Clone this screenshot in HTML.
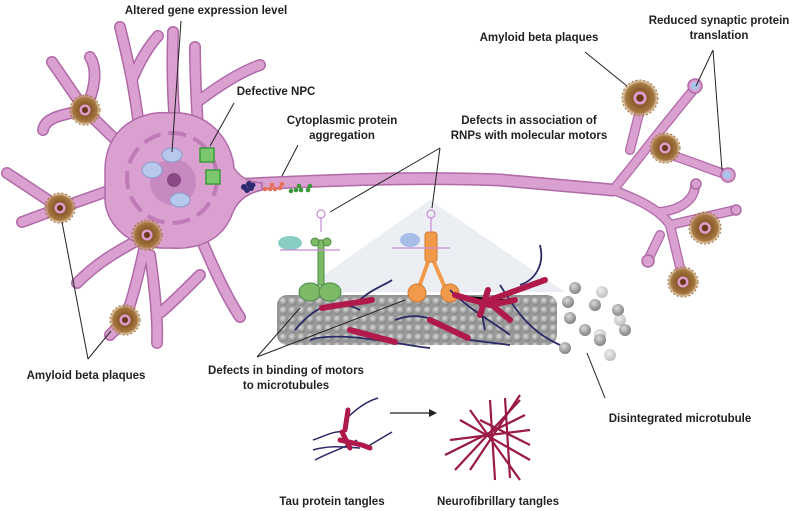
<!DOCTYPE html>
<html><head><meta charset="utf-8"><style>
html,body{margin:0;padding:0;background:#fff}
svg{display:block}
text{font-family:"Liberation Sans",sans-serif;font-weight:bold;font-size:11.5px;fill:#222;text-anchor:middle}
</style></head><body>
<svg width="800" height="511" viewBox="0 0 800 511" xmlns="http://www.w3.org/2000/svg">
<defs>
<radialGradient id="tb" cx="0.4" cy="0.35" r="0.7"><stop offset="0" stop-color="#dadada"/><stop offset="1" stop-color="#7a7a7a"/></radialGradient>
<radialGradient id="pl"><stop offset="0" stop-color="#6a3a1a"/><stop offset="0.18" stop-color="#6a3a1a"/><stop offset="0.23" stop-color="#e0a0d0"/><stop offset="0.33" stop-color="#e0a0d0"/><stop offset="0.4" stop-color="#8a5a2a"/><stop offset="0.8" stop-color="#a57840"/><stop offset="1" stop-color="#c9a170" stop-opacity="0.4"/></radialGradient>
<pattern id="mt" width="9" height="9" patternUnits="userSpaceOnUse"><rect width="9" height="9" fill="#999"/><circle cx="4.5" cy="4.5" r="4.2" fill="url(#tb)"/></pattern>
</defs>

<polygon points="430,200 300,292 565,292" fill="#e6eaf0" opacity="0.8"/>

<g fill="none" stroke="#b06aa8" stroke-linecap="round" stroke-linejoin="round">
 <g stroke-width="12">
  <path d="M123,147 L85,110 L52,62"/><path d="M85,110 C95,90 98,70 90,57"/><path d="M85,110 C60,115 45,118 43,130"/>
  <path d="M140,135 C135,90 128,60 120,27"/><path d="M132,80 C140,60 150,45 158,36"/>
  <path d="M175,125 C172,90 172,60 173,32"/>
  <path d="M198,128 C196,95 195,70 195,47"/><path d="M200,100 C220,85 240,72 260,65"/>
  <path d="M125,185 L60,208 L7,173"/><path d="M60,208 L22,222"/>
  <path d="M150,225 L147,235 C120,250 100,260 77,283"/><path d="M147,235 C140,270 132,300 125,320 L110,335"/>
  <path d="M150,255 C155,290 158,320 157,343"/>
  <path d="M195,225 C210,260 225,295 240,317"/><path d="M200,275 C185,290 170,305 160,313"/>
 </g>
 <g stroke-width="10">
  <path d="M630,150 L640,110"/><path d="M613,190 C630,170 660,130 695,88"/><path d="M655,150 C690,160 710,170 728,175"/>
  <path d="M613,190 C640,200 660,210 670,225 L683,280"/><path d="M670,225 L735,210"/><path d="M660,212 C680,210 695,200 695,185"/><path d="M660,235 L648,260"/>
 </g>
 <path d="M225,185 C300,182 400,176 500,180 L613,190" stroke-width="13"/>
</g>
<g fill="none" stroke="#d9a0d0" stroke-linecap="round" stroke-linejoin="round">
 <g stroke-width="9">
  <path d="M123,147 L85,110 L52,62"/><path d="M85,110 C95,90 98,70 90,57"/><path d="M85,110 C60,115 45,118 43,130"/>
  <path d="M140,135 C135,90 128,60 120,27"/><path d="M132,80 C140,60 150,45 158,36"/>
  <path d="M175,125 C172,90 172,60 173,32"/>
  <path d="M198,128 C196,95 195,70 195,47"/><path d="M200,100 C220,85 240,72 260,65"/>
  <path d="M125,185 L60,208 L7,173"/><path d="M60,208 L22,222"/>
  <path d="M150,225 L147,235 C120,250 100,260 77,283"/><path d="M147,235 C140,270 132,300 125,320 L110,335"/>
  <path d="M150,255 C155,290 158,320 157,343"/>
  <path d="M195,225 C210,260 225,295 240,317"/><path d="M200,275 C185,290 170,305 160,313"/>
 </g>
 <g stroke-width="7.5">
  <path d="M630,150 L640,110"/><path d="M613,190 C630,170 660,130 695,88"/><path d="M655,150 C690,160 710,170 728,175"/>
  <path d="M613,190 C640,200 660,210 670,225 L683,280"/><path d="M670,225 L735,210"/><path d="M660,212 C680,210 695,200 695,185"/><path d="M660,235 L648,260"/>
 </g>
 <path d="M225,185 C300,182 400,176 500,180 L613,190" stroke-width="10"/>
</g>
<g fill="#d9a0d0" stroke="#b06aa8" stroke-width="1.5">
 <circle cx="695" cy="86" r="7"/><circle cx="728" cy="175" r="7"/><circle cx="736" cy="210" r="5"/><circle cx="696" cy="184" r="5"/><circle cx="648" cy="261" r="6"/>
</g>
<circle cx="695" cy="86" r="4" fill="#a8c4ec"/><circle cx="727" cy="175" r="4" fill="#a8c4ec"/>
<path d="M105,170 C105,128 140,110 170,113 C208,110 232,140 234,168 C242,180 252,182 262,183 L262,190 C245,194 236,202 231,217 C220,242 195,250 170,248 C132,250 106,226 105,200 Z" fill="#d9a0d0" stroke="#b06aa8" stroke-width="1.5"/>
<circle cx="172" cy="178" r="45" fill="none" stroke="#c07ab8" stroke-width="4" stroke-dasharray="18 8"/>
<circle cx="173" cy="182" r="23" fill="#c78ac0"/>
<circle cx="174" cy="180" r="7" fill="#8a4a86"/>
<g fill="#b8c8ec" stroke="#8a9ccc" stroke-width="1">
 <ellipse cx="172" cy="155" rx="10" ry="7"/><ellipse cx="152" cy="170" rx="10" ry="8"/><ellipse cx="180" cy="200" rx="10" ry="7"/>
</g>
<g fill="#7cc66e" stroke="#3c9a3c" stroke-width="1.5">
 <path d="M200,148 h14 v14 h-14 z"/><path d="M206,170 h14 v14 h-14 z"/>
</g>
<g fill="#2e2a70"><circle cx="244" cy="187" r="3"/><circle cx="249" cy="184" r="3"/><circle cx="251" cy="188" r="3"/><circle cx="247" cy="190" r="3"/><circle cx="253" cy="185" r="2.5"/></g>
<g fill="#e6705a"><circle cx="265" cy="189" r="2.3"/><circle cx="270" cy="189" r="2.3"/><circle cx="275" cy="189" r="2.3"/><circle cx="272" cy="185" r="2.3"/><circle cx="280" cy="188" r="2.3"/><circle cx="282" cy="184" r="2.3"/></g>
<g fill="#3a9a3a"><circle cx="291" cy="191" r="2.3"/><circle cx="296" cy="190" r="2.3"/><circle cx="301" cy="190" r="2.3"/><circle cx="299" cy="186" r="2.3"/><circle cx="308" cy="190" r="2.3"/><circle cx="310" cy="186" r="2.3"/></g>
<g fill="url(#pl)">
 <circle cx="85" cy="110" r="15"/><circle cx="60" cy="208" r="15"/><circle cx="147" cy="235" r="15"/><circle cx="125" cy="320" r="15"/>
 <circle cx="640" cy="98" r="18"/><circle cx="665" cy="148" r="15"/><circle cx="705" cy="228" r="16"/><circle cx="683" cy="282" r="15"/>
</g>
<g fill="none" stroke="#a0703a" stroke-width="1" stroke-dasharray="2 2">
 <circle cx="85" cy="110" r="15"/><circle cx="60" cy="208" r="15"/><circle cx="147" cy="235" r="15"/><circle cx="125" cy="320" r="15"/>
 <circle cx="640" cy="98" r="18"/><circle cx="665" cy="148" r="15"/><circle cx="705" cy="228" r="16"/><circle cx="683" cy="282" r="15"/>
</g>
<rect x="277" y="295" width="280" height="50" rx="10" fill="url(#mt)"/>
<g fill="#7cba68" stroke="#4c8a44" stroke-width="1"><rect x="318" y="240" width="6" height="45"/><ellipse cx="310" cy="292" rx="11" ry="9"/><ellipse cx="330" cy="292" rx="11" ry="9"/><circle cx="315" cy="242" r="4"/><circle cx="327" cy="242" r="4"/></g>
<ellipse cx="290" cy="243" rx="12" ry="7" fill="#8acdc4"/>
<g fill="none" stroke="#c88ad8" stroke-width="1.2"><path d="M280,250 H340"/><path d="M321,232 V218"/><circle cx="321" cy="214" r="4"/></g>
<g fill="#f29a4c" stroke="#d07a30" stroke-width="1"><rect x="425" y="232" width="12" height="30" rx="3"/><path d="M428,262 L418,290 M434,262 L446,290" stroke="#f29a4c" stroke-width="4"/><circle cx="417" cy="293" r="9"/><circle cx="450" cy="293" r="9"/></g>
<ellipse cx="410" cy="240" rx="10" ry="7" fill="#a8bce8"/>
<g fill="none" stroke="#c88ad8" stroke-width="1.2"><path d="M392,248 H450"/><path d="M431,232 V218"/><circle cx="431" cy="214" r="4"/></g>
<g fill="none" stroke="#2a2a66" stroke-width="1.8">
 <path d="M295,330 C320,300 340,300 360,310"/><path d="M360,300 C370,290 385,285 392,280"/><path d="M310,340 C340,330 400,345 430,348"/>
 <path d="M395,320 C420,310 440,320 470,340 L510,345"/><path d="M450,290 C470,310 490,320 510,335"/><path d="M500,285 C510,300 525,330 560,345"/>
 <path d="M540,245 C545,265 535,280 520,285"/><path d="M480,305 L485,330"/>
</g>
<g stroke="#b01a4a" stroke-width="6" stroke-linecap="round" stroke-dasharray="9 2">
 <path d="M322,308 L372,300"/><path d="M350,330 L395,342"/><path d="M430,320 L468,338"/><path d="M455,295 L490,305 L515,300"/><path d="M490,300 L545,280"/><path d="M488,290 L480,315"/><path d="M492,305 L510,320"/>
</g>
<g fill="url(#tb)">
 <circle cx="575" cy="288" r="6"/><circle cx="570" cy="318" r="6"/><circle cx="585" cy="330" r="6"/><circle cx="602" cy="292" r="6" opacity="0.5"/><circle cx="595" cy="305" r="6"/><circle cx="618" cy="310" r="6"/><circle cx="625" cy="330" r="6"/><circle cx="600" cy="335" r="6" opacity="0.5"/><circle cx="565" cy="348" r="6"/><circle cx="600" cy="340" r="6"/><circle cx="610" cy="355" r="6" opacity="0.5"/><circle cx="568" cy="302" r="6"/><circle cx="620" cy="320" r="6" opacity="0.5"/>
</g>
<g fill="none" stroke="#2a2a66" stroke-width="1.5"><path d="M315,460 C330,452 345,448 357,440"/><path d="M313,440 C325,436 335,430 345,432"/><path d="M313,450 C330,445 345,447 360,448"/><path d="M365,448 L392,432"/><path d="M345,420 C355,410 365,402 378,398"/></g>
<g stroke="#b01a4a" stroke-width="5" stroke-linecap="round"><path d="M345,430 L348,410"/><path d="M340,440 L362,445 L370,448"/><path d="M342,432 L350,448"/></g>
<path d="M390,413 H432" stroke="#222" stroke-width="1.3"/><polygon points="437,413 429,409 429,417" fill="#222"/>
<g fill="none" stroke="#9a1a44" stroke-width="2.2">
 <path d="M450,440 L530,430"/><path d="M470,410 L520,480"/><path d="M490,400 L495,480"/><path d="M520,395 L470,470"/><path d="M460,420 L530,460"/><path d="M505,398 L510,478"/><path d="M445,455 L525,415"/><path d="M480,420 L530,445"/><path d="M455,470 L520,400"/>
</g>
<g stroke="#222" stroke-width="1" fill="none">
 <path d="M181,21 L172,152"/><path d="M234,103 L210,146"/><path d="M298,145 L282,176"/>
 <path d="M440,148 L330,212"/><path d="M440,148 L432,208"/>
 <path d="M585,52 L627,86"/><path d="M713,50 L696,86 M713,50 L722,170"/>
 <path d="M88,359 L62,222 M88,359 L111,331"/>
 <path d="M257,357 L300,308 M257,357 L405,300"/>
 <path d="M605,398 L587,353"/>
</g>
<text x="206" y="14">Altered gene expression level</text>
<text x="276" y="95">Defective NPC</text>
<text x="342" y="124">Cytoplasmic protein</text><text x="342" y="139">aggregation</text>
<text x="529" y="124">Defects in association of</text><text x="529" y="139">RNPs with molecular motors</text>
<text x="539" y="41">Amyloid beta plaques</text>
<text x="719" y="24">Reduced synaptic protein</text><text x="719" y="39">translation</text>
<text x="86" y="379">Amyloid beta plaques</text>
<text x="286" y="374">Defects in binding of motors</text><text x="286" y="389">to microtubules</text>
<text x="680" y="422">Disintegrated microtubule</text>
<text x="332" y="505">Tau protein tangles</text>
<text x="498" y="505">Neurofibrillary tangles</text>
</svg>
</body></html>
